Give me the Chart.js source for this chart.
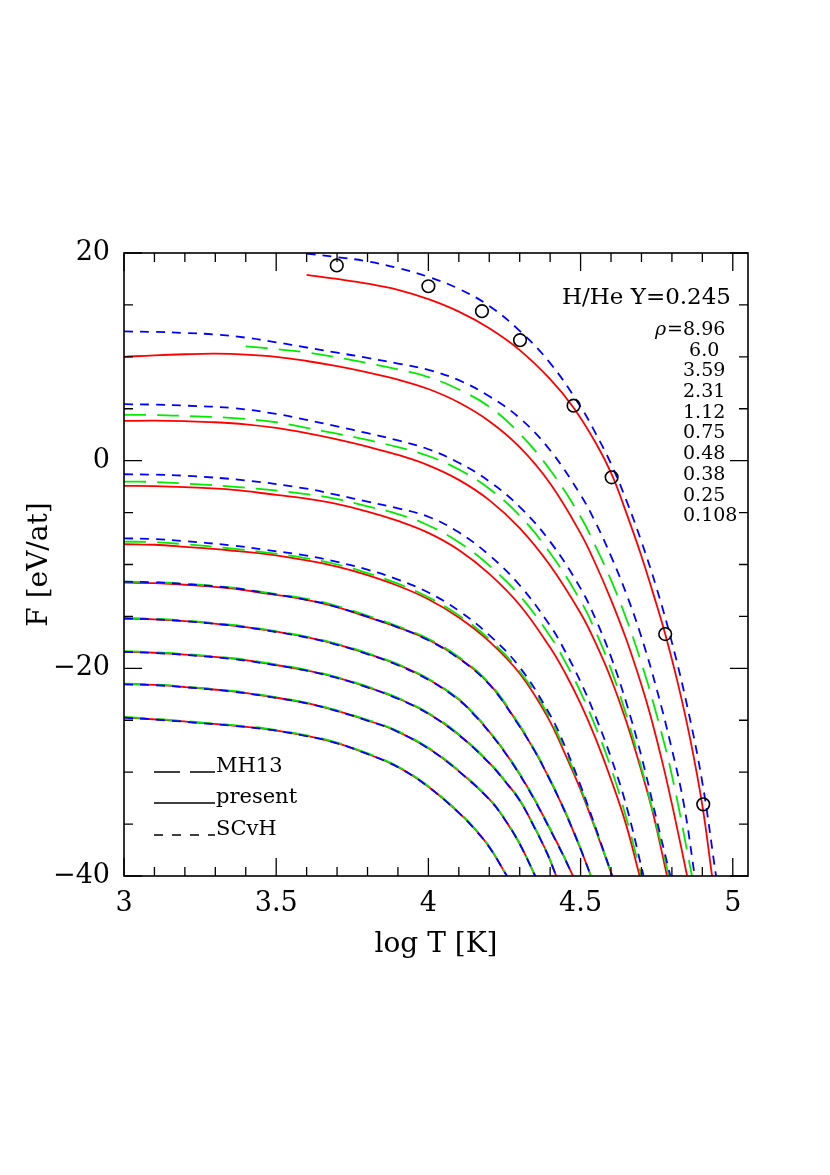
<!DOCTYPE html>
<html>
<head>
<meta charset="utf-8">
<script src="https://cdn.jsdelivr.net/npm/chart.js@4.4.0/dist/chart.umd.min.js"></script>
<style>
html, body { margin: 0; padding: 0; background: #fff; }
#wrap { width: 830px; height: 1175px; }
</style>
</head>
<body>
<div id="wrap"><canvas id="myChart" width="830" height="1175"></canvas></div>
<script>
// densities, top curve first
var rhoLabels = ['8.96', ' 6.0', '3.59', '2.31', '1.12', '0.75', '0.48', '0.38', '0.25', '0.108'];
var xTicks = [3, 3.5, 4, 4.5, 5];
var yTicks = [-40, -20, 0, 20];

// open circles (rho = 8.96)
var circleLogT = [3.699, 4.0, 4.176, 4.301, 4.477, 4.602, 4.778, 4.903];
var circleF = [18.8, 16.8, 14.4, 11.6, 5.3, -1.6, -16.7, -33.1];

// present (red, solid) : [log T, F]
var present = [
  [[3.6,17.9],[3.7,17.5],[3.8,17.05],[3.9,16.45],[4.0,15.55],[4.1,14.35],[4.2,12.75],[4.3,10.65],[4.4,7.85],[4.477,5.1],[4.55,1.7],[4.602,-1.3],[4.65,-5.0],[4.7,-9.2],[4.75,-13.9],[4.778,-16.7],[4.82,-21.5],[4.86,-26.8],[4.9,-33.2],[4.932,-40]],
  [[3.0,10.0],[3.1,10.15],[3.2,10.25],[3.3,10.3],[3.4,10.22],[3.5,10.0],[3.6,9.6],[3.7,9.1],[3.8,8.5],[3.9,7.8],[4.0,6.9],[4.1,5.6],[4.2,3.8],[4.3,1.3],[4.4,-2.2],[4.5,-7.0],[4.55,-10.0],[4.6,-13.4],[4.65,-17.2],[4.7,-21.6],[4.73,-24.6],[4.77,-29.2],[4.81,-34.4],[4.85,-40]],
  [[3.0,3.83],[3.1,3.85],[3.2,3.8],[3.3,3.7],[3.4,3.5],[3.5,3.15],[3.6,2.65],[3.7,2.05],[3.8,1.35],[3.9,0.55],[4.0,-0.45],[4.1,-1.85],[4.2,-3.8],[4.3,-6.5],[4.4,-10.1],[4.5,-14.7],[4.55,-17.6],[4.6,-21.0],[4.65,-25.1],[4.7,-29.9],[4.74,-34.2],[4.784,-40]],
  [[3.0,-2.43],[3.1,-2.45],[3.2,-2.55],[3.36,-2.82],[3.5,-3.3],[3.6,-3.65],[3.687,-4.1],[3.8,-4.9],[3.9,-5.8],[4.0,-6.95],[4.1,-8.6],[4.2,-10.9],[4.3,-13.9],[4.4,-18.0],[4.45,-20.5],[4.5,-23.4],[4.55,-26.8],[4.6,-30.7],[4.65,-35.1],[4.694,-40]],
  [[3.0,-8.05],[3.1,-8.1],[3.2,-8.3],[3.35,-8.65],[3.468,-9.0],[3.6,-9.6],[3.7,-10.2],[3.797,-11.0],[3.9,-12.05],[4.0,-13.35],[4.1,-15.1],[4.2,-17.4],[4.3,-20.5],[4.39,-24.6],[4.45,-28.3],[4.5,-31.7],[4.55,-35.6],[4.604,-40]],
  [[3.0,-11.75],[3.1,-11.8],[3.2,-11.95],[3.35,-12.3],[3.468,-12.8],[3.6,-13.4],[3.7,-14.1],[3.797,-15.03],[3.9,-16.05],[4.0,-17.25],[4.1,-19.0],[4.2,-21.5],[4.285,-24.9],[4.35,-28.0],[4.4,-30.8],[4.45,-33.9],[4.5,-37.4],[4.534,-40]],
  [[3.0,-15.2],[3.1,-15.28],[3.2,-15.45],[3.35,-15.85],[3.468,-16.32],[3.6,-17.0],[3.7,-17.7],[3.797,-18.56],[3.9,-19.65],[4.0,-21.05],[4.1,-23.0],[4.159,-24.7],[4.2,-26.1],[4.25,-28.0],[4.3,-30.2],[4.35,-32.7],[4.4,-35.5],[4.44,-37.8],[4.475,-40]],
  [[3.0,-18.4],[3.1,-18.5],[3.2,-18.68],[3.35,-19.05],[3.468,-19.53],[3.6,-20.2],[3.7,-20.9],[3.797,-21.78],[3.9,-22.9],[4.0,-24.35],[4.1,-26.4],[4.2,-29.1],[4.25,-30.8],[4.3,-32.7],[4.35,-35.4],[4.39,-37.8],[4.42,-40]],
  [[3.0,-21.52],[3.1,-21.6],[3.2,-21.8],[3.35,-22.2],[3.468,-22.68],[3.6,-23.35],[3.7,-24.1],[3.797,-24.99],[3.885,-25.9],[4.0,-27.7],[4.1,-29.9],[4.2,-32.6],[4.25,-34.5],[4.3,-36.9],[4.351,-40]],
  [[3.0,-24.73],[3.139,-24.99],[3.25,-25.25],[3.35,-25.5],[3.468,-25.85],[3.6,-26.5],[3.7,-27.2],[3.797,-28.2],[3.9,-29.5],[4.0,-31.4],[4.1,-33.9],[4.15,-35.4],[4.2,-37.2],[4.258,-40]]
];

// MH13 (green, long dash) - no curve for 8.96
var mh13 = [
  null,
  [[3.4,11.0],[3.5,10.75],[3.6,10.42],[3.7,9.95],[3.8,9.4],[3.9,8.8],[4.0,8.05],[4.1,6.85],[4.2,5.2],[4.3,2.6],[4.4,-0.9],[4.5,-5.4],[4.55,-8.3],[4.6,-11.5],[4.65,-15.2],[4.7,-19.5],[4.75,-24.5],[4.8,-30.3],[4.866,-40]],
  [[3.0,4.41],[3.1,4.4],[3.2,4.3],[3.36,4.1],[3.5,3.7],[3.6,3.15],[3.7,2.6],[3.8,2.0],[3.9,1.3],[4.0,0.45],[4.1,-0.85],[4.2,-2.7],[4.3,-5.3],[4.4,-8.9],[4.5,-13.5],[4.55,-16.5],[4.6,-20.1],[4.65,-24.5],[4.7,-29.6],[4.75,-35.2],[4.79,-40]],
  [[3.0,-2.02],[3.1,-2.05],[3.2,-2.2],[3.4,-2.6],[3.578,-3.14],[3.7,-3.7],[3.8,-4.4],[3.9,-5.15],[3.983,-6.0],[4.1,-7.85],[4.2,-10.1],[4.3,-13.0],[4.4,-16.9],[4.45,-19.4],[4.5,-22.3],[4.55,-25.7],[4.6,-29.6],[4.65,-34.4],[4.70,-40]],
  [[3.0,-7.8],[3.1,-7.85],[3.2,-8.05],[3.35,-8.45],[3.468,-8.85],[3.6,-9.4],[3.7,-10.0],[3.797,-10.8],[3.9,-11.85],[4.0,-13.15],[4.1,-14.9],[4.2,-17.2],[4.3,-20.3],[4.39,-24.3],[4.45,-28.0],[4.5,-31.5],[4.55,-35.5],[4.604,-40]],
  [[3.0,-11.65],[3.1,-11.7],[3.2,-11.85],[3.35,-12.2],[3.468,-12.7],[3.6,-13.3],[3.7,-14.0],[3.797,-14.9],[3.9,-15.95],[4.0,-17.15],[4.1,-18.9],[4.2,-21.4],[4.285,-24.8],[4.35,-27.9],[4.4,-30.7],[4.45,-33.8],[4.5,-37.3],[4.534,-40]],
  [[3.0,-15.15],[3.1,-15.23],[3.2,-15.4],[3.35,-15.8],[3.468,-16.27],[3.6,-16.95],[3.7,-17.65],[3.797,-18.5],[3.9,-19.6],[4.0,-21.0],[4.1,-22.95],[4.159,-24.65],[4.2,-26.05],[4.25,-27.95],[4.3,-30.15],[4.35,-32.65],[4.4,-35.45],[4.44,-37.8],[4.475,-40]],
  [[3.0,-18.35],[3.1,-18.45],[3.2,-18.63],[3.35,-19.0],[3.468,-19.48],[3.6,-20.15],[3.7,-20.85],[3.797,-21.72],[3.9,-22.85],[4.0,-24.3],[4.1,-26.35],[4.2,-29.05],[4.25,-30.75],[4.3,-32.65],[4.35,-35.35],[4.39,-37.75],[4.42,-40]],
  [[3.0,-21.48],[3.1,-21.56],[3.2,-21.76],[3.35,-22.15],[3.468,-22.63],[3.6,-23.3],[3.7,-24.05],[3.797,-24.94],[3.885,-25.85],[4.0,-27.65],[4.1,-29.85],[4.2,-32.55],[4.25,-34.45],[4.3,-36.85],[4.351,-40]],
  [[3.0,-24.68],[3.139,-24.94],[3.25,-25.2],[3.35,-25.45],[3.468,-25.8],[3.6,-26.45],[3.7,-27.15],[3.797,-28.15],[3.9,-29.45],[4.0,-31.35],[4.1,-33.85],[4.15,-35.35],[4.2,-37.15],[4.258,-40]]
];

// SCvH (blue, short dash)
var scvh = [
  [[3.6,19.95],[3.7,19.6],[3.8,19.2],[3.9,18.55],[4.0,17.7],[4.1,16.55],[4.2,14.9],[4.3,12.5],[4.4,9.4],[4.5,5.2],[4.55,2.6],[4.6,-0.3],[4.65,-3.8],[4.7,-7.8],[4.75,-12.3],[4.8,-17.5],[4.85,-23.6],[4.9,-31.0],[4.945,-40]],
  [[3.0,12.45],[3.1,12.4],[3.2,12.3],[3.3,12.15],[3.4,11.85],[3.5,11.4],[3.6,10.9],[3.7,10.4],[3.8,9.9],[3.9,9.35],[4.0,8.75],[4.1,7.75],[4.2,6.2],[4.3,4.1],[4.4,1.0],[4.5,-3.3],[4.55,-6.0],[4.6,-9.2],[4.65,-12.8],[4.7,-17.0],[4.75,-22.0],[4.8,-27.8],[4.84,-33.2],[4.875,-40]],
  [[3.0,5.44],[3.1,5.4],[3.2,5.3],[3.36,5.06],[3.5,4.5],[3.6,3.93],[3.7,3.3],[3.8,2.65],[3.9,1.95],[4.0,1.1],[4.1,-0.2],[4.2,-2.0],[4.3,-4.45],[4.4,-7.8],[4.5,-12.3],[4.55,-15.3],[4.6,-18.9],[4.65,-23.3],[4.7,-28.5],[4.75,-34.6],[4.795,-40]],
  [[3.0,-1.31],[3.1,-1.35],[3.2,-1.45],[3.4,-1.9],[3.6,-2.7],[3.7,-3.3],[3.8,-3.95],[3.9,-4.6],[4.0,-5.4],[4.1,-6.9],[4.2,-9.1],[4.3,-12.0],[4.4,-15.9],[4.45,-18.4],[4.5,-21.3],[4.55,-24.7],[4.6,-28.6],[4.65,-33.2],[4.707,-40]],
  [[3.0,-7.48],[3.1,-7.55],[3.2,-7.75],[3.35,-8.15],[3.468,-8.6],[3.6,-9.15],[3.7,-9.75],[3.797,-10.47],[3.9,-11.45],[4.0,-12.7],[4.1,-14.45],[4.2,-16.8],[4.3,-19.9],[4.4,-24.5],[4.45,-27.6],[4.5,-31.3],[4.55,-35.4],[4.604,-40]],
  [[3.0,-11.65],[3.1,-11.72],[3.2,-11.88],[3.35,-12.25],[3.468,-12.75],[3.6,-13.4],[3.7,-14.1],[3.797,-15.0],[3.9,-16.05],[4.0,-17.3],[4.1,-19.05],[4.2,-21.55],[4.285,-24.95],[4.35,-28.0],[4.4,-30.8],[4.45,-33.9],[4.5,-37.4],[4.534,-40]],
  [[3.0,-15.2],[3.1,-15.28],[3.2,-15.46],[3.35,-15.87],[3.468,-16.35],[3.6,-17.03],[3.7,-17.73],[3.797,-18.6],[3.9,-19.7],[4.0,-21.1],[4.1,-23.05],[4.159,-24.75],[4.2,-26.15],[4.25,-28.05],[4.3,-30.25],[4.35,-32.75],[4.4,-35.55],[4.44,-37.85],[4.475,-40]],
  [[3.0,-18.42],[3.1,-18.52],[3.2,-18.7],[3.35,-19.08],[3.468,-19.56],[3.6,-20.23],[3.7,-20.93],[3.797,-21.8],[3.9,-22.93],[4.0,-24.38],[4.1,-26.43],[4.2,-29.13],[4.25,-30.83],[4.3,-32.73],[4.35,-35.43],[4.39,-37.83],[4.42,-40]],
  [[3.0,-21.54],[3.1,-21.62],[3.2,-21.82],[3.35,-22.22],[3.468,-22.7],[3.6,-23.37],[3.7,-24.12],[3.797,-25.01],[3.885,-25.92],[4.0,-27.72],[4.1,-29.92],[4.2,-32.62],[4.25,-34.52],[4.3,-36.92],[4.351,-40]],
  [[3.0,-24.75],[3.139,-25.01],[3.25,-25.27],[3.35,-25.52],[3.468,-25.87],[3.6,-26.52],[3.7,-27.22],[3.797,-28.22],[3.9,-29.52],[4.0,-31.42],[4.1,-33.92],[4.15,-35.42],[4.2,-37.22],[4.258,-40]]
];

var serif = 'DejaVu Serif';

function toXY(pts) {
  return pts.map(function (p) { return {x: p[0], y: p[1]}; });
}

// first dataset is drawn on top
var datasets = [];
datasets.push({
  label: 'circles',
  data: circleLogT.map(function (t, i) { return {x: t, y: circleF[i]}; }),
  showLine: false,
  pointRadius: 6.3,
  pointBorderWidth: 1.6,
  pointBorderColor: '#000',
  pointBackgroundColor: 'rgba(0,0,0,0)'
});
scvh.forEach(function (pts, i) {
  datasets.push({
    label: 'SCvH ' + rhoLabels[i], data: toXY(pts),
    borderColor: 'rgb(0,0,255)', borderWidth: 1.8, borderDash: [9, 7],
    pointRadius: 0, fill: false, tension: 0.4
  });
});
mh13.forEach(function (pts, i) {
  if (!pts) return;
  datasets.push({
    label: 'MH13 ' + rhoLabels[i], data: toXY(pts),
    borderColor: 'rgb(0,235,0)', borderWidth: 1.8, borderDash: [22, 11],
    pointRadius: 0, fill: false, tension: 0.4
  });
});
present.forEach(function (pts, i) {
  datasets.push({
    label: 'present ' + rhoLabels[i], data: toXY(pts),
    borderColor: 'rgb(255,0,0)', borderWidth: 1.8,
    pointRadius: 0, fill: false, tension: 0.4
  });
});

//============ frame, inward ticks, labels and legend ============
var decor = {
  id: 'decor',
  afterDatasetsDraw: function (chart) {
    var ctx = chart.ctx, a = chart.chartArea;
    var x = chart.scales.x, y = chart.scales.y;
    ctx.save();
    ctx.strokeStyle = '#000';
    ctx.lineWidth = 1.6;
    ctx.setLineDash([]);
    ctx.strokeRect(a.left, a.top, a.right - a.left, a.bottom - a.top);

    ctx.lineWidth = 1.3;
    ctx.beginPath();
    for (var i = 0; i <= 20; i++) {
      var px = x.getPixelForValue(3 + i * 0.1);
      var len = (i % 5 === 0) ? 18 : 9;
      ctx.moveTo(px, a.bottom); ctx.lineTo(px, a.bottom - len);
      ctx.moveTo(px, a.top); ctx.lineTo(px, a.top + len);
    }
    for (var v = -40; v <= 20; v += 5) {
      var py = y.getPixelForValue(v);
      var l2 = (v % 20 === 0) ? 18 : 9;
      ctx.moveTo(a.left, py); ctx.lineTo(a.left + l2, py);
      ctx.moveTo(a.right, py); ctx.lineTo(a.right - l2, py);
    }
    ctx.stroke();

    // annotation
    ctx.fillStyle = '#000';
    ctx.font = '23px "' + serif + '"';
    ctx.textAlign = 'right';
    ctx.textBaseline = 'middle';
    ctx.fillText('H/He Y=0.245', a.right - 17, a.top + 45);

    ctx.font = '19px "' + serif + '"';
    ctx.textAlign = 'left';
    var nx = a.left + 559;
    rhoLabels.forEach(function (lab, k) {
      ctx.fillText(lab, nx, a.top + 77 + k * 20.7);
    });
    ctx.textAlign = 'right';
    ctx.fillText('=', nx, a.top + 77);
    var eqW = ctx.measureText('=').width;
    ctx.font = 'italic 19px "' + serif + '"';
    ctx.fillText('\u03c1', nx - eqW - 1, a.top + 77);

    // legend
    var items = [
      {text: 'MH13', dash: [26, 10], yy: a.bottom - 104},
      {text: 'present', dash: [], yy: a.bottom - 73},
      {text: 'SCvH', dash: [9, 9], yy: a.bottom - 41}
    ];
    ctx.textAlign = 'left';
    ctx.textBaseline = 'alphabetic';
    ctx.font = '21px "' + serif + '"';
    ctx.lineWidth = 1.3;
    items.forEach(function (it) {
      ctx.setLineDash(it.dash);
      ctx.beginPath();
      ctx.moveTo(a.left + 30, it.yy);
      ctx.lineTo(a.left + 91, it.yy);
      ctx.stroke();
      ctx.fillText(it.text, a.left + 92, it.yy);
    });
    ctx.restore();
  }
};

new Chart(document.getElementById('myChart'), {
  type: 'line',
  data: { datasets: datasets },
  options: {
    responsive: false,
    animation: false,
    layout: { padding: { top: 253, right: 82, left: 0, bottom: 0 } },
    plugins: { legend: { display: false }, tooltip: { enabled: false } },
    scales: {
      x: {
        type: 'linear', min: 3, max: 5.05,
        afterBuildTicks: function (s) { s.ticks = xTicks.map(function (v) { return {value: v}; }); },
        afterFit: function (s) { s.height = 299; },
        grid: { display: false, drawTicks: false },
        border: { display: false },
        ticks: {
          color: '#000', padding: 12, maxRotation: 0, autoSkip: false,
          font: { family: serif, size: 27 },
          callback: function (v) { return String(v); }
        },
        title: {
          display: true, text: 'log T [K]', color: '#000',
          font: { family: serif, size: 28 }, padding: { top: 0, bottom: 213 }
        }
      },
      y: {
        type: 'linear', min: -40, max: 20,
        afterBuildTicks: function (s) { s.ticks = yTicks.map(function (v) { return {value: v}; }); },
        afterFit: function (s) { s.width = 124; },
        grid: { display: false, drawTicks: false },
        border: { display: false },
        ticks: {
          color: '#000', padding: 14, autoSkip: false,
          font: { family: serif, size: 27 },
          callback: function (v) { return v < 0 ? '\u2212' + Math.abs(v) : String(v); }
        },
        title: {
          display: true, text: 'F [eV/at]', color: '#000',
          font: { family: serif, size: 28 }, padding: { top: 23, bottom: 0 }
        }
      }
    }
  },
  plugins: [decor]
});
</script>
</body>
</html>
